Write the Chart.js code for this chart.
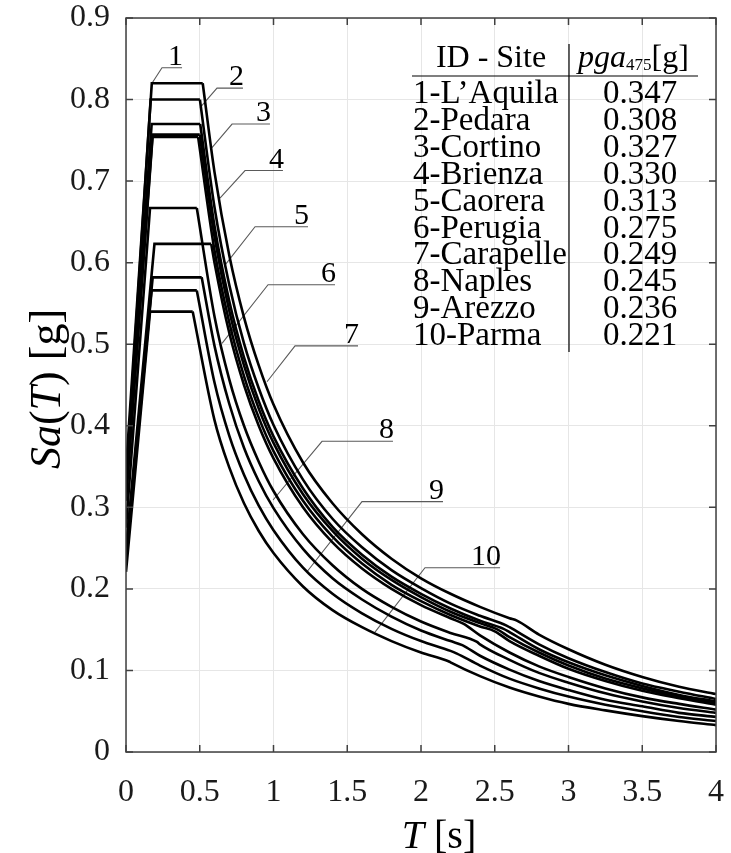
<!DOCTYPE html>
<html>
<head>
<meta charset="utf-8">
<script src="https://cdn.jsdelivr.net/npm/chart.js@4.4.1/dist/chart.umd.min.js"></script>
<style>
  html, body { margin:0; padding:0; background:#fff; overflow:hidden; }
  #wrap { width:731px; height:853px; position:relative; }
  #grafico { display:block; }
</style>
</head>
<body>
<div id="wrap"><canvas id="grafico"></canvas></div>
<script>
// =========================
// DATA
// =========================
const siteNames = ['1-L\u2019Aquila','2-Pedara','3-Cortino','4-Brienza','5-Caorera',
                   '6-Perugia','7-Carapelle','8-Naples','9-Arezzo','10-Parma'];
const pgaText = ['0.347','0.308','0.327','0.330','0.313','0.275','0.249','0.245','0.236','0.221'];

// corner points of each spectrum: T=0, plateau start, plateau end, TD knee
const sa0     = [0.347,0.308,0.327,0.330,0.313,0.275,0.249,0.245,0.236,0.221];
const tB      = [0.175,0.180,0.174,0.167,0.180,0.163,0.193,0.181,0.174,0.163];
const plateau = [0.820,0.754,0.770,0.800,0.757,0.667,0.623,0.582,0.566,0.540];
const tC      = [0.520,0.489,0.503,0.501,0.500,0.480,0.578,0.513,0.480,0.452];
const tD      = [2.65,2.50,2.56,2.58,2.52,2.38,2.29,2.28,2.24,2.19];
const saTD    = [0.161,0.148,0.151,0.155,0.150,0.135,0.157,0.131,0.121,0.111];

// descending branch, read at these periods
const tailT = [0.6,0.7,0.8,0.9,1.0,1.2,1.4,1.6,1.8,2.0,2.2,2.4,2.6,2.8,3.0,3.25,3.5,3.75,4.0];
const saLAquila   = [0.711,0.609,0.533,0.474,0.426,0.355,0.305,0.267,0.237,0.213,0.194,0.178,0.164,0.144,0.126,0.107,0.092,0.080,0.071];
const saPedara    = [0.615,0.527,0.461,0.410,0.369,0.308,0.264,0.231,0.205,0.185,0.168,0.154,0.136,0.118,0.102,0.087,0.075,0.066,0.058];
const saCortino   = [0.645,0.553,0.484,0.430,0.387,0.323,0.276,0.242,0.215,0.194,0.176,0.161,0.147,0.126,0.110,0.094,0.081,0.070,0.062];
const saBrienza   = [0.668,0.573,0.501,0.446,0.401,0.334,0.286,0.251,0.223,0.201,0.182,0.167,0.153,0.132,0.115,0.098,0.084,0.074,0.065];
const saCaorera   = [0.632,0.541,0.474,0.421,0.379,0.316,0.271,0.237,0.211,0.190,0.172,0.158,0.141,0.122,0.106,0.090,0.078,0.068,0.060];
const saPerugia   = [0.534,0.457,0.400,0.356,0.320,0.267,0.229,0.200,0.178,0.160,0.146,0.132,0.113,0.097,0.085,0.072,0.062,0.054,0.048];
const saCarapelle = [0.600,0.514,0.450,0.400,0.360,0.300,0.257,0.225,0.200,0.180,0.164,0.143,0.122,0.105,0.092,0.078,0.067,0.059,0.052];
const saNaples    = [0.498,0.427,0.373,0.332,0.299,0.249,0.213,0.187,0.166,0.149,0.136,0.118,0.101,0.087,0.076,0.064,0.056,0.048,0.043];
const saArezzo    = [0.453,0.388,0.340,0.302,0.272,0.226,0.194,0.170,0.151,0.136,0.124,0.106,0.090,0.078,0.068,0.058,0.050,0.043,0.038];
const saParma     = [0.407,0.349,0.305,0.271,0.244,0.203,0.174,0.153,0.136,0.122,0.110,0.093,0.079,0.068,0.059,0.051,0.044,0.038,0.033];
const tails = [saLAquila,saPedara,saCortino,saBrienza,saCaorera,saPerugia,saCarapelle,saNaples,saArezzo,saParma];

// numbered callouts: point on curve -> elbow -> end of underline
const calloutIds  = ['1','2','3','4','5','6','7','8','9','10'];
const calloutT    = [0.176,0.502,0.583,0.637,0.671,0.651,0.956,0.997,1.227,1.688];
const calloutSa   = [0.820,0.790,0.741,0.679,0.597,0.501,0.454,0.309,0.221,0.147];
const elbowT      = [0.244,0.617,0.719,0.807,0.875,0.963,1.146,1.329,1.600,2.027];
const elbowSa     = [0.839,0.814,0.770,0.713,0.644,0.573,0.498,0.381,0.307,0.226];
const underlineT  = [0.380,0.793,0.976,1.064,1.234,1.417,1.573,1.810,2.149,2.536];

const xTicks = [0,0.5,1,1.5,2,2.5,3,3.5,4];
const yTicks = [0,0.1,0.2,0.3,0.4,0.5,0.6,0.7,0.8,0.9];
const tickLabel = v => String(Number(v.toFixed(2)));

// =========================
// HELPERS
// =========================
const serif = '"Liberation Serif", "Times New Roman", serif';
function fnt(size, italic){ return (italic ? 'italic ' : '') + size + 'px ' + serif; }

function drawRuns(ctx, runs, x, y, align){
  let w = 0;
  runs.forEach(r => { ctx.font = fnt(r.size, r.italic); r.w = ctx.measureText(r.t).width; w += r.w; });
  let cx = align === 'center' ? x - w/2 : (align === 'right' ? x - w : x);
  runs.forEach(r => {
    ctx.font = fnt(r.size, r.italic);
    ctx.fillText(r.t, cx, y + (r.dy || 0));
    cx += r.w;
  });
}

// =========================
// DATASETS
// =========================
const datasets = [];
siteNames.forEach((name, i) => {
  datasets.push({
    label: name + ' rise',
    data: [{x:0, y:sa0[i]}, {x:tB[i], y:plateau[i]}, {x:tC[i], y:plateau[i]}],
    borderColor: '#000', borderWidth: 2.6, tension: 0
  });
  const pts = [{x:tC[i], y:plateau[i]}, {x:tD[i], y:saTD[i]}];
  tailT.forEach((t, k) => pts.push({x:t, y:tails[i][k]}));
  pts.sort((a, b) => a.x - b.x);
  datasets.push({
    label: name,
    data: pts,
    borderColor: '#000', borderWidth: 2.6, cubicInterpolationMode: 'monotone'
  });
});
calloutIds.forEach((id, i) => {
  datasets.push({
    label: 'callout ' + id,
    data: [{x:calloutT[i], y:calloutSa[i]}, {x:elbowT[i], y:elbowSa[i]}, {x:underlineT[i], y:elbowSa[i]}],
    borderColor: '#5a5a5a', borderWidth: 1.1, tension: 0
  });
});

// =========================
// DECOR PLUGIN
// =========================
const decor = {
  id: 'decor',
  afterDraw(chart){
    const ctx = chart.ctx, a = chart.chartArea;
    const xs = chart.scales.x, ys = chart.scales.y;
    ctx.save();

    // inward ticks, all four sides
    ctx.strokeStyle = '#404040'; ctx.lineWidth = 1.5;
    ctx.beginPath();
    xTicks.forEach(v => {
      const px = xs.getPixelForValue(v);
      ctx.moveTo(px, a.bottom); ctx.lineTo(px, a.bottom - 7);
      ctx.moveTo(px, a.top); ctx.lineTo(px, a.top + 7);
    });
    yTicks.forEach(v => {
      const py = ys.getPixelForValue(v);
      ctx.moveTo(a.left, py); ctx.lineTo(a.left + 7, py);
      ctx.moveTo(a.right, py); ctx.lineTo(a.right - 7, py);
    });
    ctx.stroke();
    ctx.strokeRect(a.left, a.top, a.right - a.left, a.bottom - a.top);

    // tick labels
    ctx.fillStyle = '#1a1a1a';
    ctx.textBaseline = 'middle';
    xTicks.forEach(v => drawRuns(ctx, [{t:tickLabel(v), size:32}], xs.getPixelForValue(v), a.bottom + 41, 'center'));
    yTicks.forEach(v => drawRuns(ctx, [{t:tickLabel(v), size:32}], a.left - 16, ys.getPixelForValue(v), 'right'));

    // callout numbers
    ctx.fillStyle = '#000';
    ctx.textBaseline = 'alphabetic';
    calloutIds.forEach((id, i) => {
      drawRuns(ctx, [{t:id, size:30}], xs.getPixelForValue(underlineT[i]) + 1,
               ys.getPixelForValue(elbowSa[i]) - 3, 'right');
    });

    // site table
    const colL = a.right - 303, colSep = a.right - 147, colNum = a.right - 76;
    drawRuns(ctx, [{t:'ID - Site', size:32}], (colL + colSep) / 2, a.top + 49, 'center');
    drawRuns(ctx, [{t:'pga', size:32, italic:true}, {t:'475', size:17, dy:3}, {t:'[g]', size:32}],
             (colSep + a.right - 18) / 2, a.top + 49, 'center');
    ctx.strokeStyle = '#000'; ctx.lineWidth = 1.2;
    ctx.beginPath();
    ctx.moveTo(a.right - 304, a.top + 58); ctx.lineTo(a.right - 18, a.top + 58);
    ctx.moveTo(colSep, a.top + 26); ctx.lineTo(colSep, a.top + 334);
    ctx.stroke();
    siteNames.forEach((name, i) => {
      const y = a.top + 85 + 26.9 * i;
      drawRuns(ctx, [{t:name, size:33}], colL, y, 'left');
      drawRuns(ctx, [{t:pgaText[i], size:33}], colNum, y, 'center');
    });

    // axis titles
    const midX = (a.left + a.right) / 2, midY = (a.top + a.bottom) / 2;
    drawRuns(ctx, [{t:'T', size:40, italic:true}, {t:' [s]', size:40}], midX + 18, a.bottom + 96, 'center');
    ctx.translate(a.left - 66, midY + 4);
    ctx.rotate(-Math.PI / 2);
    drawRuns(ctx, [{t:'Sa', size:44, italic:true}, {t:'(', size:44}, {t:'T', size:44, italic:true},
                   {t:') [g]', size:44}], 0, 0, 'center');
    ctx.restore();
  }
};

// =========================
// CHART
// =========================
new Chart(document.getElementById('grafico'), {
  type: 'scatter',
  data: { datasets },
  plugins: [decor],
  options: {
    responsive: true,
    maintainAspectRatio: false,
    animation: false,
    showLine: true,
    layout: { padding: { left: 0, right: 15, top: 18, bottom: 0 } },
    elements: { point: { radius: 0, hoverRadius: 0 }, line: { borderCapStyle: 'butt', borderJoinStyle: 'miter' } },
    plugins: { legend: { display: false }, tooltip: { enabled: false } },
    scales: {
      x: {
        type: 'linear', min: 0, max: 4,
        afterBuildTicks: s => { s.ticks = xTicks.map(v => ({ value: v })); },
        afterFit: s => { s.height = 101; },
        grid: { color: '#e6e6e6', lineWidth: 1, drawTicks: false },
        border: { display: false },
        ticks: { display: false }
      },
      y: {
        type: 'linear', min: 0, max: 0.9,
        afterBuildTicks: s => { s.ticks = yTicks.map(v => ({ value: v })); },
        afterFit: s => { s.width = 126; },
        grid: { color: '#e6e6e6', lineWidth: 1, drawTicks: false },
        border: { display: false },
        ticks: { display: false }
      }
    }
  }
});
</script>
</body>
</html>
